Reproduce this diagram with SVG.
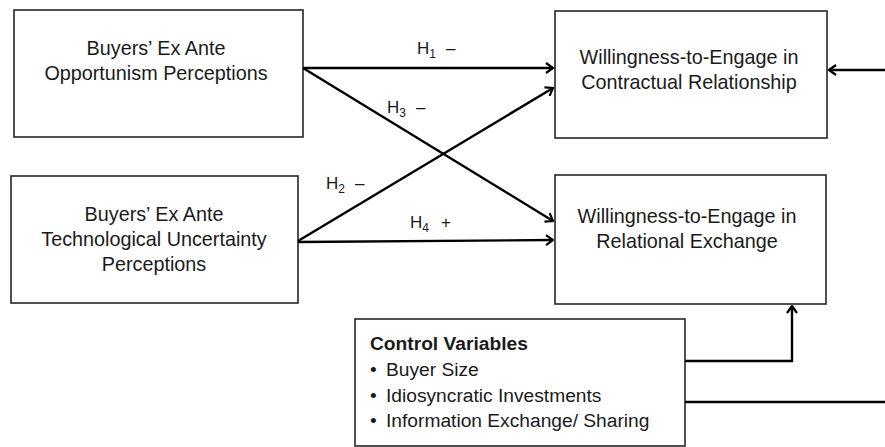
<svg xmlns="http://www.w3.org/2000/svg" width="885" height="447" viewBox="0 0 885 447">
<style>
.box{fill:#fff;stroke:#262626;stroke-width:1.6}
.t{font-family:"Liberation Sans",Arial,sans-serif;font-size:19.8px;fill:#1a1a1a;text-anchor:middle}
.c{font-family:"Liberation Sans",Arial,sans-serif;font-size:19.2px;fill:#1a1a1a}
.h{font-family:"Liberation Sans",Arial,sans-serif;font-size:17px;fill:#1a1a1a}
.hs{font-size:12px}
.ln{fill:none;stroke:#000;stroke-width:2.4}
</style>
<defs>
<marker id="ah" viewBox="0 0 12 12" refX="10.5" refY="6" markerWidth="12" markerHeight="12" markerUnits="userSpaceOnUse" orient="auto">
<path d="M3.5,1 L10.5,6 L3.5,11" fill="none" stroke="#000" stroke-width="2.2"/>
</marker>
</defs>
<rect width="885" height="447" fill="#fff"/>
<g id="n1">
<rect class="box" x="14" y="10" width="289" height="127"/>
<text class="t" x="156" y="55">Buyers’ Ex Ante</text>
<text class="t" x="156" y="80">Opportunism Perceptions</text>
</g>
<g id="n2">
<rect class="box" x="11" y="176" width="287" height="127"/>
<text class="t" x="154" y="221">Buyers’ Ex Ante</text>
<text class="t" x="154" y="246">Technological Uncertainty</text>
<text class="t" x="154" y="271">Perceptions</text>
</g>
<g id="n3">
<rect class="box" x="555" y="11" width="272" height="127"/>
<text class="t" x="689" y="64">Willingness-to-Engage in</text>
<text class="t" x="689" y="89">Contractual Relationship</text>
</g>
<g id="n4">
<rect class="box" x="555" y="175" width="271" height="129"/>
<text class="t" x="687" y="223">Willingness-to-Engage in</text>
<text class="t" x="687" y="248">Relational Exchange</text>
</g>
<g id="ctrl">
<rect class="box" x="355" y="319" width="330" height="127"/>
<text class="c" x="370" y="350" font-weight="bold">Control Variables</text>
<text class="c" x="370" y="376">•</text><text class="c" x="386" y="376">Buyer Size</text>
<text class="c" x="370" y="402">•</text><text class="c" x="386" y="402">Idiosyncratic Investments</text>
<text class="c" x="370" y="427">•</text><text class="c" x="386" y="427">Information Exchange/ Sharing</text>
</g>
<g id="connectors">
<line class="ln" x1="303" y1="68" x2="553" y2="68" marker-end="url(#ah)"/>
<line class="ln" x1="303" y1="68" x2="553" y2="221" marker-end="url(#ah)"/>
<line class="ln" x1="298" y1="241" x2="553" y2="88" marker-end="url(#ah)"/>
<line class="ln" x1="298" y1="242" x2="553" y2="240" marker-end="url(#ah)"/>
<line class="ln" x1="885" y1="70" x2="829" y2="70" marker-end="url(#ah)"/>
<path class="ln" d="M685,361 H792 V306" marker-end="url(#ah)"/>
<path class="ln" d="M685,402 H885"/>
</g>
<g id="labels">
<text class="h" x="417" y="54">H<tspan class="hs" dy="4">1</tspan><tspan dy="-4" x="446">–</tspan></text>
<text class="h" x="387" y="113">H<tspan class="hs" dy="4">3</tspan><tspan dy="-4" x="416">–</tspan></text>
<text class="h" x="326" y="189">H<tspan class="hs" dy="4">2</tspan><tspan dy="-4" x="355">–</tspan></text>
<text class="h" x="410" y="228">H<tspan class="hs" dy="4">4</tspan><tspan dy="-4" x="441">+</tspan></text>
</g>
</svg>
